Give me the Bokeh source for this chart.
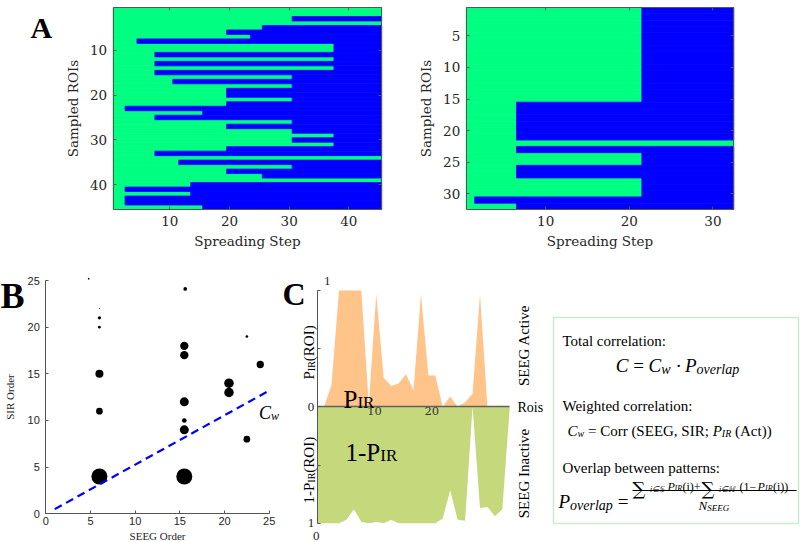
import math
from bokeh.plotting import figure
from bokeh.models import Range1d, FixedTicker, Label, BoxAnnotation, LinearAxis
from bokeh.layouts import row, column
from bokeh.embed import file_html
from bokeh.resources import INLINE

# ---------------- data ----------------
# Panel A: for every sampled ROI (row), the last spreading step that is still "active" (green)
left_switch_step = [45, 45, 30, 45, 25, 19, 23, 4, 37, 37, 7, 37, 7, 37, 7, 30, 10, 30, 19, 19,
                    30, 19, 2, 15, 7, 30, 19, 30, 37, 30, 37, 19, 7, 45, 11, 30, 19, 25, 45, 13,
                    2, 13, 2, 2, 15]
left_n_steps = 45
right_switch_step = [21, 21, 21, 21, 21, 21, 21, 21, 21, 21, 21, 21, 21, 21, 21, 6, 6, 6, 6, 6,
                     6, 32, 6, 21, 21, 6, 6, 21, 21, 21, 1, 6]
right_n_steps = 32
left_xticks = [10, 20, 30, 40]
left_yticks = [10, 20, 30, 40]
right_xticks = [10, 20, 30]
right_yticks = [5, 10, 15, 20, 25, 30]

# Panel B: SEEG order vs SIR order, marker size = weight
seeg_order = [4.8, 6, 6, 6, 6, 6, 6, 15.6, 15.5, 15.5, 15.5, 15.5, 15.5, 15.5, 20.5, 20.5, 22.5, 22.5, 24]
sir_order = [25.2, 22, 21, 20, 15, 11, 4, 24.1, 18, 17, 12, 10, 9, 4, 14, 13, 19, 8, 16]
weight_size = [1.7, 1.0, 3.3, 2.7, 8.0, 6.7, 16.0, 3.7, 8.3, 8.3, 9.0, 4.7, 9.0, 16.0, 9.5, 9.5, 2.7, 6.7, 7.3]
fit_x = [1, 25]
fit_y = [0.5, 13.2]
b_ticks = [0, 5, 10, 15, 20, 25]

# Panel C: P_IR for SEEG-active ROIs (up) and 1-P_IR for SEEG-inactive ROIs (down)
roi_pos = [0, 1.2, 2.5, 3.8, 5.1, 6.4, 7.7, 9.0, 10.3, 11.6, 12.9, 14.2, 15.5, 16.8, 18.1,
           19.4, 20.6, 21.9, 23.2, 24.5, 25.8, 27.1, 28.4, 29.7, 31.0, 32.3, 33.6]
p_ir_active = [0, 0, 0.19, 1.0, 1.0, 1.0, 1.0, 0.02, 0.97, 0.25, 0.18, 0.20, 0.28, 0.14, 0.97,
               0.27, 0.27, 0.0, 0.09, 0.0, 0.04, 0.11, 0.97, 0.0, 0, 0, 0]
one_minus_p_inactive = [1.0, 1.0, 1.0, 1.0, 0.97, 0.88, 0.99, 1.0, 0.99, 1.0, 0.97, 1.0, 1.0, 1.0, 1.0,
                        1.0, 1.0, 0.96, 0.72, 0.97, 0.98, 0.0, 0.87, 0.86, 0.94, 0.88, 0.0]
c_xticks = [10, 20]
c_yticks = [-1, -0.5, 0, 0.5, 1]
c_ytick_labels = ["1", "", "0", "", ""]

# ---------------- style ----------------
GREEN = "#00FF80"
BLUE = "#0000FF"
ORANGE = "#FEC48A"
LGREEN = "#C5D97C"
AXC = "#555555"
TXT = "#262626"
SERIF = "Liberation Serif"
CM = "DejaVu Serif"
SANS = "Liberation Sans"

W_UP = {' ': 250, '(': 333, ')': 333, '+': 564, '-': 333, '\u2212': 564, '=': 564, '\u00b7': 250,
        ',': 250, ';': 278, ':': 278, '0': 500, '1': 500,
        'A': 722, 'C': 667, 'E': 611, 'G': 722, 'H': 722, 'I': 333, 'N': 722, 'O': 722, 'P': 556,
        'R': 667, 'S': 556, 'T': 611, 'W': 944,
        'a': 444, 'b': 500, 'c': 444, 'd': 500, 'e': 444, 'g': 500, 'h': 500, 'i': 278, 'l': 278,
        'n': 500, 'o': 500, 'p': 500, 'r': 333, 's': 389, 't': 278, 'v': 500, 'w': 722, 'u': 500,
        '\u2211': 713, '\u2208': 667, '\U0001D54A': 700, '\u210D': 750}
W_IT = {'C': 667, 'P': 611, 'w': 667, 'o': 500, 'v': 444, 'e': 444, 'r': 389, 'l': 278, 'a': 500,
        'p': 500, 'I': 333, 'R': 611, 'N': 667, 'S': 500, 'E': 611, 'G': 722, 'i': 278}


def tw(s, size, italic=False):
    tab = W_IT if italic else W_UP
    return sum((tab.get(ch) or W_UP.get(ch, 500)) for ch in s) * size / 1000.0


def lin(p, p0, v0, p1, v1):
    return v0 + (p - p0) * (v1 - v0) / (p1 - p0)


BOXES = {}


def make_fig(box, xmap, ymap):
    """box: page extent (x0, y0, x1, y1); xmap/ymap: (page0, value0, page1, value1)."""
    X0, Y0, X1, Y1 = box
    xr = Range1d(lin(X0, *xmap), lin(X1, *xmap))
    yr = Range1d(lin(Y1, *ymap), lin(Y0, *ymap))
    p = figure(frame_width=X1 - X0, frame_height=Y1 - Y0, x_range=xr, y_range=yr, min_border=0,
               output_backend="svg", toolbar_location=None, frame_align=False)
    p.grid.visible = False
    p.background_fill_color = "white"
    p.border_fill_color = "white"
    p.outline_line_color = None
    BOXES[p.id] = box
    return p


def label(fig, px, py, text, size, style="normal", color="black", font=SERIF, align="left",
          baseline="alphabetic", angle=0.0):
    X0, Y0, X1, Y1 = BOXES[fig.id]
    fig.add_layout(Label(x=px - X0, y=Y1 - py, x_units="screen", y_units="screen", text=text,
                         text_font=font, text_font_size=f"{size}px", text_font_style=style,
                         text_color=color, text_baseline=baseline, text_align=align,
                         angle=angle))


def put(fig, px, py, parts, angle=0.0, color="black", font=SERIF, align="left"):
    """Write a run of pieces (text, size, style, dy) starting at page point (px, py);
    dy > 0 lowers a piece (subscript). angle=pi/2 writes upward."""
    total = sum(tw(t, sz, st == "italic") for t, sz, st, dy in parts)
    pos = -total / 2 if align == "center" else 0.0
    for t, sz, st, dy in parts:
        lead = len(t) - len(t.lstrip(" "))
        body = t.strip(" ")
        off = pos + lead * 0.25 * sz
        if angle == 0:
            x, y = px + off, py + dy
        else:
            x, y = px + dy, py - off
        if body:
            label(fig, x, y, body, sz, st, color, font, angle=angle)
        pos += tw(t, sz, st == "italic")


def style_axis(ax, font, size, lab_font, lab_size, tick_standoff, lab_standoff, tick_in=3):
    ax.major_label_text_font = font
    ax.major_label_text_font_size = size
    ax.major_label_text_color = TXT
    ax.axis_label_text_font = lab_font
    ax.axis_label_text_font_size = lab_size
    ax.axis_label_text_font_style = "normal"
    ax.axis_label_text_color = TXT
    ax.axis_line_color = AXC
    ax.major_tick_line_color = AXC
    ax.major_tick_in = tick_in
    ax.major_tick_out = 0
    ax.minor_tick_line_color = None
    ax.major_label_standoff = tick_standoff
    ax.axis_label_standoff = lab_standoff


def heatmap(box, switch, n_steps, xticks, yticks, frame_x0, frame_x1):
    n_rows = len(switch)
    rows = list(range(1, n_rows + 1))
    edge = [s + 0.5 for s in switch]
    # blue part only for rows that switch before the last step
    b_rows = [r for r, s in zip(rows, switch) if s < n_steps]
    b_edge = [s + 0.5 for s in switch if s < n_steps]
    p = make_fig(box, (frame_x0, 0.5, frame_x1, n_steps + 0.5), (7, 0.5, 209, n_rows + 0.5))
    p.hbar(y=rows, left=0.5, right=edge, height=1.0, fill_color=GREEN, line_color=GREEN,
           line_width=0.8)
    p.hbar(y=b_rows, left=b_edge, right=n_steps + 0.5, height=1.0, fill_color=BLUE,
           line_color=BLUE, line_width=0.8)
    xa, ya = p.xaxis[0], p.yaxis[0]
    xa.fixed_location = n_rows + 0.5
    xa.bounds = (0.5, n_steps + 0.5)
    ya.fixed_location = 0.5
    ya.bounds = (0.5, n_rows + 0.5)
    xa.ticker = FixedTicker(ticks=xticks)
    ya.ticker = FixedTicker(ticks=yticks)
    xa.axis_label = "Spreading Step"
    ya.axis_label = "Sampled ROIs"
    style_axis(xa, CM, "13.5px", CM, "13.5px", 6, 4)
    style_axis(ya, CM, "13.5px", CM, "13.5px", 6, 6)
    top = LinearAxis(fixed_location=0.5, bounds=(0.5, n_steps + 0.5), ticker=FixedTicker(ticks=xticks),
                     major_label_overrides={t: "" for t in xticks})
    right = LinearAxis(fixed_location=n_steps + 0.5, bounds=(0.5, n_rows + 0.5),
                       ticker=FixedTicker(ticks=yticks), major_label_overrides={t: "" for t in yticks})
    for a in (top, right):
        style_axis(a, CM, "1px", CM, "1px", 0, 0)
    p.add_layout(top, "above")
    p.add_layout(right, "right")
    return p


# ---------------- Panel A ----------------
pA1 = heatmap((0, 0, 400, 258), left_switch_step, left_n_steps, left_xticks, left_yticks, 112.6, 381.2)
pA2 = heatmap((400, 0, 800, 258), right_switch_step, right_n_steps, right_xticks, right_yticks, 465.8, 733.3)
label(pA1, 30, 27, "A", 30, "bold")

# ---------------- Panel B ----------------
pB = make_fig((0, 258, 280, 542), (45.3, 0, 268.7, 25), (513.3, 0, 280, 25))
pB.scatter(x=seeg_order, y=sir_order, size=weight_size, fill_color="black", line_color=None)
pB.line(x=fit_x, y=fit_y, line_color="#0000FF", line_width=2.2, line_dash="8 5")
bx, by = pB.xaxis[0], pB.yaxis[0]
bx.fixed_location = 0
by.fixed_location = 0
bx.bounds = (b_ticks[0], b_ticks[-1])
by.bounds = (b_ticks[0], b_ticks[-1])
bx.ticker = FixedTicker(ticks=b_ticks)
by.ticker = FixedTicker(ticks=b_ticks)
bx.axis_label = "SEEG Order"
by.axis_label = "SIR Order"
style_axis(bx, SANS, "11px", SERIF, "11px", 3, 2)
style_axis(by, SANS, "11px", SERIF, "11px", 6, 8)
label(pB, 0, 295, "B", 36, "bold")
put(pB, 258.5, 412.7, [("C", 18, "italic", 0), ("w", 12, "italic", 3)])

# ---------------- Panel C ----------------
pC = make_fig((280, 258, 545, 542), (316.7, roi_pos[0], 509.3, roi_pos[-1]), (522.7, -1, 290, 1))
pC.varea(x=roi_pos, y1=0, y2=p_ir_active, fill_color=ORANGE)
pC.varea(x=roi_pos, y1=0, y2=[-v for v in one_minus_p_inactive], fill_color=LGREEN)
cx, cy = pC.xaxis[0], pC.yaxis[0]
cx.fixed_location = 0
cx.bounds = (roi_pos[0], roi_pos[-1])
cx.ticker = FixedTicker(ticks=c_xticks)
style_axis(cx, CM, "11.5px", SERIF, "14px", 0, 0, tick_in=0)
cx.axis_line_color = "#606060"
cx.axis_line_width = 1.6
cx.major_label_text_color = "#333333"
cy.fixed_location = 0
cy.bounds = (c_yticks[0], c_yticks[-1])
cy.ticker = FixedTicker(ticks=c_yticks)
cy.major_label_overrides = dict(zip(c_yticks, c_ytick_labels))
style_axis(cy, SERIF, "13px", SERIF, "13px", 3, 0)
label(pC, 282, 293, "C", 32, "bold")
label(pC, 326.7, 280, "1", 13, color=TXT, align="center", baseline="middle")
label(pC, 315.7, 535, "0", 13, color=TXT, align="center", baseline="middle")
label(pC, 517, 407, "Rois", 14, baseline="middle")
label(pC, 523, 345, "SEEG Active", 15, align="center", baseline="middle", angle=math.pi / 2)
label(pC, 523, 473, "SEEG Inactive", 15, align="center", baseline="middle", angle=math.pi / 2)
put(pC, 308, 379, [("P", 15, "normal", 0), ("IR", 10, "normal", 3), ("(ROI)", 15, "normal", 0)],
    angle=math.pi / 2)
put(pC, 308, 503, [("1-P", 15, "normal", 0), ("IR", 10, "normal", 3), ("(ROI)", 15, "normal", 0)],
    angle=math.pi / 2)
put(pC, 343, 399, [("P", 25, "normal", 0), ("IR", 17, "normal", 3)])
put(pC, 345, 451.7, [("1-P", 25, "normal", 0), ("IR", 17, "normal", 3)])

# ---------------- Panel D (formula box) ----------------
pD = make_fig((545, 258, 800, 542), (545, 545, 800, 800), (542, 542, 258, 258))
pD.xaxis.visible = False
pD.yaxis.visible = False
pD.add_layout(BoxAnnotation(left=553, right=798, top=317, bottom=523, fill_color=None,
                            line_color="#5DB85D", line_width=1.5))
put(pD, 562, 340, [("Total correlation:", 15, "normal", 0)])
put(pD, 677, 365, [("C", 19, "italic", 0), (" = ", 19, "normal", 0), ("C", 19, "italic", 0),
                   ("w", 14, "italic", 4), (" \u00b7 ", 19, "normal", 0), ("P", 19, "italic", 0),
                   ("overlap", 14, "italic", 4)], align="center")
put(pD, 562, 405, [("Weighted correlation:", 15, "normal", 0)])
put(pD, 567, 430, [("C", 15, "italic", 0), ("w", 10, "italic", 3),
                   (" = Corr (SEEG, SIR; ", 15, "normal", 0), ("P", 15, "italic", 0),
                   ("IR", 10, "italic", 3), (" (Act))", 15, "normal", 0)])
put(pD, 562, 467, [("Overlap between patterns:", 15, "normal", 0)])
put(pD, 558, 501, [("P", 19, "italic", 0), ("overlap", 14, "italic", 4), (" = ", 19, "normal", 0)])
num_parts = [(632, "\u2211", 18, "normal", 2, CM), (649.5, "i\u2208\U0001D54A", 8, "italic", 3, SERIF),
             (667, "P", 12, "italic", 0, SERIF), (674, "IR", 8, "italic", 2, SERIF),
             (682, "(i)+", 12, "normal", 0, SERIF), (701, "\u2211", 18, "normal", 2, CM),
             (718.5, "i\u2208\u210D", 8, "italic", 3, SERIF), (739, "(1\u2212", 12, "normal", 0, SERIF),
             (757, "P", 12, "italic", 0, SERIF), (764.5, "IR", 8, "italic", 2, SERIF),
             (772.5, "(i))", 12, "normal", 0, SERIF)]
for xx, t, sz, st, dy, fnt in num_parts:
    put(pD, xx, 486, [(t, sz, st, dy)], font=fnt)
pD.add_layout(BoxAnnotation(left=632, right=796, top=489.6, bottom=490.5, fill_color="black",
                            fill_alpha=1.0, line_color=None))
put(pD, 698, 505, [("N", 13, "italic", 0), ("SEEG", 9, "italic", 2)])

layout = column(row(pA1, pA2), row(pB, pC, pD))
open("out.html", "w").write(file_html(layout, INLINE))
